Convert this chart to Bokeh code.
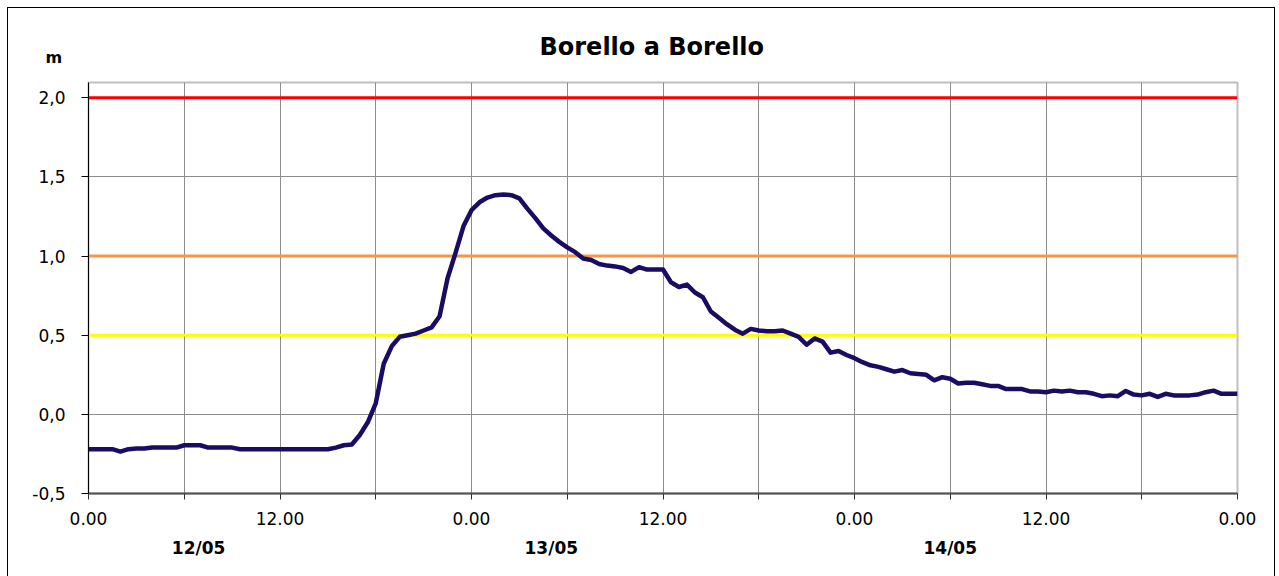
from bokeh.plotting import figure
from bokeh.models import FixedTicker, LinearAxis, Range1d, Title
from bokeh.embed import file_html
from bokeh.resources import INLINE

# ---- data ----
title_text = "Borello a Borello"
unit_text = "m"
# water level (m), one reading every 30 minutes from 12/05 00:00 to 15/05 00:00
level = [
    -0.22, -0.22, -0.22, -0.22, -0.235, -0.22, -0.215, -0.215, -0.21, -0.21,
    -0.21, -0.21, -0.195, -0.195, -0.195, -0.21, -0.21, -0.21, -0.21, -0.22,
    -0.22, -0.22, -0.22, -0.22, -0.22, -0.22, -0.22, -0.22, -0.22, -0.22, -0.22,
    -0.21, -0.195, -0.19, -0.13, -0.05, 0.07, 0.32, 0.43, 0.49,
    0.50, 0.51, 0.53, 0.55, 0.62, 0.86, 1.02, 1.19, 1.29, 1.34,
    1.37, 1.385, 1.39, 1.385, 1.365, 1.30, 1.24, 1.175, 1.13, 1.09,
    1.055, 1.025, 0.985, 0.975, 0.95, 0.94, 0.935, 0.925, 0.90, 0.93,
    0.915, 0.915, 0.915, 0.835, 0.805, 0.82, 0.77, 0.74, 0.65, 0.61,
    0.57, 0.535, 0.51, 0.54, 0.53, 0.525, 0.525, 0.53, 0.51, 0.49,
    0.44, 0.48, 0.46, 0.39, 0.40, 0.375, 0.355, 0.33, 0.31, 0.30,
    0.285, 0.27, 0.28, 0.26, 0.255, 0.25, 0.215, 0.235, 0.225, 0.195,
    0.20, 0.20, 0.19, 0.18, 0.18, 0.16, 0.16, 0.16, 0.145, 0.145,
    0.14, 0.15, 0.145, 0.15, 0.14, 0.14, 0.13, 0.115, 0.12, 0.115,
    0.148, 0.125, 0.12, 0.13, 0.11, 0.13, 0.12, 0.12, 0.12, 0.125,
    0.14, 0.15, 0.13, 0.13, 0.13,
]
hours = [i * 0.5 for i in range(len(level))]

threshold_levels = [0.5, 1.0, 2.0]
threshold_colors = ["#FFFF00", "#F79646", "#FF0000"]

x_ticks = [0, 6, 12, 18, 24, 30, 36, 42, 48, 54, 60, 66, 72]
x_tick_labels = ["0.00", "", "12.00", "", "0.00", "", "12.00", "", "0.00", "", "12.00", "", "0.00"]
y_ticks = [-0.5, 0.0, 0.5, 1.0, 1.5, 2.0]
y_tick_labels = ["-0,5", "0,0", "0,5", "1,0", "1,5", "2,0"]
day_positions = [6.9, 29.0, 54.0]
day_labels = ["12/05", "13/05", "14/05"]

FONT = "DejaVu Sans"

p = figure(width=1268, height=574, output_backend="svg", toolbar_location=None,
           x_range=Range1d(0, 72), y_range=Range1d(-0.5, 2.097),
           min_border_left=80, min_border_right=39, min_border_top=74, min_border_bottom=89,
           background_fill_color="white", border_fill_color="white", title=None)
p.styles = {"border": "1px solid black", "margin-left": "7px", "margin-top": "7px"}

# unit label (closest to the frame), then the chart title above it
p.add_layout(Title(text=unit_text, align="left", offset=-43, standoff=31,
                   text_font=FONT, text_font_size="16px", text_font_style="bold",
                   text_color="black"), "above")
p.add_layout(Title(text=title_text, align="left", offset=451, standoff=-61,
                   text_font=FONT, text_font_size="24px", text_font_style="bold",
                   text_color="black"), "above")

p.outline_line_color = "#C0C0C0"
p.outline_line_width = 2

# axes
xa = p.xaxis[0]
xa.ticker = FixedTicker(ticks=x_ticks)
xa.major_label_overrides = {t: l for t, l in zip(x_ticks, x_tick_labels)}
xa.axis_line_color = "#505050"
xa.axis_line_width = 2
xa.major_tick_line_color = "#303030"
xa.major_tick_out = 6
xa.major_tick_in = 0
xa.minor_tick_line_color = None
xa.major_label_text_font = FONT
xa.major_label_text_font_size = "17px"
xa.major_label_text_color = "black"
xa.major_label_standoff = 12

ya = p.yaxis[0]
ya.ticker = FixedTicker(ticks=y_ticks)
ya.major_label_overrides = {t: l for t, l in zip(y_ticks, y_tick_labels)}
ya.axis_line_color = "black"
ya.axis_line_width = 1
ya.major_tick_line_color = "black"
ya.major_tick_out = 7
ya.major_tick_in = 0
ya.minor_tick_line_color = None
ya.major_label_text_font = FONT
ya.major_label_text_font_size = "17px"
ya.major_label_text_color = "black"
ya.major_label_standoff = 16

day_axis = LinearAxis(ticker=FixedTicker(ticks=day_positions),
                      major_label_overrides={t: l for t, l in zip(day_positions, day_labels)},
                      axis_line_color=None, major_tick_line_color=None, minor_tick_line_color=None,
                      major_label_text_font=FONT, major_label_text_font_size="17px",
                      major_label_text_font_style="bold", major_label_text_color="black",
                      major_label_standoff=4)
p.add_layout(day_axis, "below")

# grids
p.xgrid.ticker = FixedTicker(ticks=x_ticks[:-1])
p.xgrid.grid_line_color = "#8C8C8C"
p.xgrid.grid_line_width = 1
p.ygrid.ticker = FixedTicker(ticks=y_ticks)
p.ygrid.grid_line_color = "#8C8C8C"
p.ygrid.grid_line_width = 1

# threshold lines
for lv, col in zip(threshold_levels, threshold_colors):
    p.line([hours[0], hours[-1]], [lv, lv], line_color=col, line_width=3)

# level series
p.line(hours, level, line_color="#1A0C64", line_width=4.5, line_join="round")

open("out.html", "w").write(file_html(p, INLINE))
